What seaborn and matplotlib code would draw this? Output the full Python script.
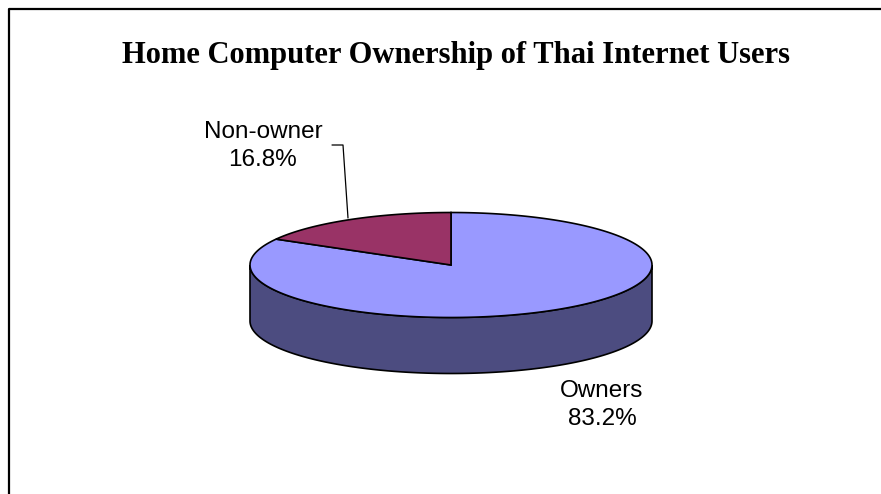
import numpy as np
import matplotlib
matplotlib.use("Agg")
import matplotlib.pyplot as plt
import seaborn as sns

# Survey shares
categories = ["Owners", "Non-owner"]
shares = [83.2, 16.8]
top_colors = ["#9999FF", "#993366"]
side_colors = ["#4C4C80", "#4D1A33"]

sns.set_theme(style="white")
plt.rcParams["font.family"] = ["Liberation Sans", "DejaVu Sans"]

W, H = 881, 494
fig = plt.figure(figsize=(W / 100, H / 100), dpi=100)
ax = fig.add_axes([0, 0, 1, 1])
ax.set_xlim(0, W)
ax.set_ylim(H, 0)
ax.axis("off")

# Chart frame
ax.plot([8.5, 8.5, W + 5], [H + 5, 9.5, 9.5], color="black", lw=1.6,
        solid_capstyle="butt", zorder=1)

ax.text(456, 55, "Home Computer Ownership of Thai Internet Users",
        family=["Liberation Serif", "DejaVu Serif"], weight="bold",
        fontsize=22, ha="center", va="center", color="black")

# Tilted disc geometry
cx, cy, rx, ry, depth = 451, 265, 201, 52.5, 56


def pt(t, dy=0.0):
    return cx + rx * np.cos(t), cy - ry * np.sin(t) + dy


fracs = np.array(shares) / sum(shares)
# Owners run clockwise from 12 o'clock, Non-owner counter-clockwise from it
owner_span = fracs[0] * 2 * np.pi
spans = {0: (np.pi / 2 - owner_span, np.pi / 2),
         1: (np.pi / 2, np.pi / 2 + fracs[1] * 2 * np.pi)}

# Front wall: visible lower half of the rim (pi .. 2pi)
for i, (lo, hi) in spans.items():
    for shift in (-2 * np.pi, 0, 2 * np.pi):
        s0, s1 = max(lo + shift, np.pi), min(hi + shift, 2 * np.pi)
        if s1 <= s0:
            continue
        t = np.linspace(s0, s1, 200)
        xt, yt = pt(t)
        xb, yb = pt(t[::-1], depth)
        ax.fill(np.r_[xt, xb], np.r_[yt, yb], color=side_colors[i],
                ec="black", lw=1.2, zorder=2)

# Top faces
for i, (a0, a1) in spans.items():
    t = np.linspace(a0, a1, 300)
    xs, ys = pt(t)
    ax.fill(np.r_[cx, xs, cx], np.r_[cy, ys, cy], color=top_colors[i],
            ec="black", lw=1.2, joinstyle="miter", zorder=3)

# Labels
label_pos = {0: (602, 405), 1: (263, 146)}
for i, name in enumerate(categories):
    x, y = label_pos[i]
    ax.text(x, y, f"{name}\n{shares[i]:.1f}%", ha="center", va="center",
            fontsize=17.5, linespacing=1.4, color="black")

# Leader line for the small slice
ax.plot([332, 343, 348], [145, 145, 218], color="black", lw=0.9, zorder=4)

fig.savefig("out.png", dpi=100)
